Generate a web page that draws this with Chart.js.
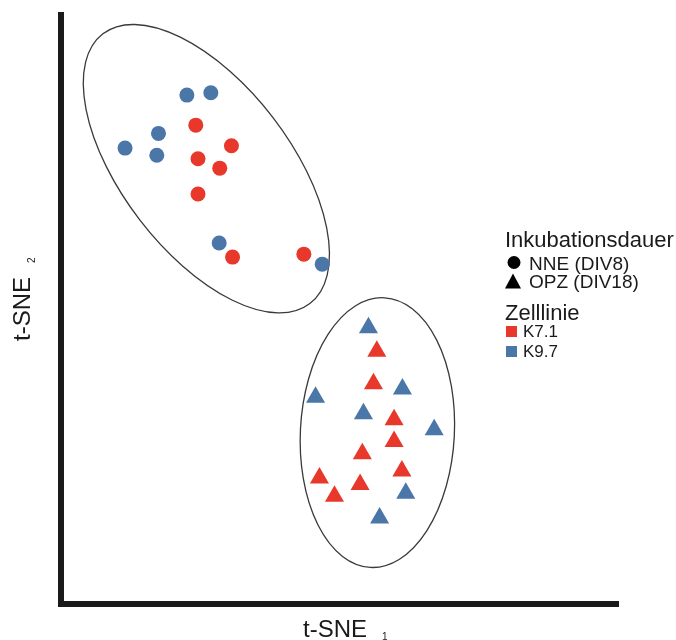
<!DOCTYPE html>
<html>
<head>
<meta charset="utf-8">
<script src="https://cdn.jsdelivr.net/npm/chart.js@4.4.1/dist/chart.umd.min.js"></script>
<style>
  html, body { margin: 0; padding: 0; background: #fff; }
  #wrap { width: 676px; height: 640px; position: relative; }
</style>
</head>
<body>
<div id="wrap"><canvas id="tsneChart"></canvas></div>
<script>
// t-SNE coordinates (arbitrary units, 0-100 on both axes)
const nneK71 = [[24.2, 81.3], [30.6, 77.8], [24.6, 75.6], [28.5, 74.0], [24.6, 69.6], [30.8, 58.9], [43.6, 59.4]];
const nneK97 = [[22.6, 86.4], [26.9, 86.8], [17.5, 79.9], [11.5, 77.4], [17.2, 76.2], [28.4, 61.3], [46.9, 57.7]];
const opzK71 = [[56.7, 42.9], [56.1, 37.4], [59.8, 31.3], [59.8, 27.6], [54.1, 25.5], [61.2, 22.6], [46.4, 21.4], [53.7, 20.3], [49.1, 18.3]];
const opzK97 = [[55.2, 46.9], [61.3, 36.5], [45.7, 35.1], [54.3, 32.3], [67.0, 29.6], [61.9, 18.8], [57.2, 14.6]];

const groupLabels = ['NNE (DIV8)', 'OPZ (DIV18)'];
const lineLabels = ['K7.1', 'K9.7'];

const RED = 'rgb(232, 56, 44)';
const BLUE = 'rgb(74, 118, 168)';

// cluster outlines: centre in data units, radii in px, angle in degrees
const clusterOutlines = [
  { cx: 26.1, cy: 73.9, rx: 170, ry: 84, angle: 52.5 },
  { cx: 56.8, cy: 29.1, rx: 77, ry: 135, angle: 3 }
];

function toPoints(pairs) {
  return pairs.map(p => ({ x: p[0], y: p[1] }));
}

// ===============================
// PLUGIN: ellipses, axis titles, legend
// ===============================
const extrasPlugin = {
  id: 'extras',
  beforeDatasetsDraw(chart) {
    const { ctx, scales: { x, y } } = chart;
    ctx.save();
    ctx.strokeStyle = '#3a3a3a';
    ctx.lineWidth = 1.3;
    clusterOutlines.forEach(e => {
      ctx.beginPath();
      ctx.ellipse(x.getPixelForValue(e.cx), y.getPixelForValue(e.cy), e.rx, e.ry, e.angle * Math.PI / 180, 0, Math.PI * 2);
      ctx.stroke();
    });
    ctx.restore();
  },
  afterDraw(chart) {
    const ctx = chart.ctx;
    const font = 'Liberation Sans, Arial, sans-serif';
    ctx.save();
    ctx.fillStyle = '#1a1a1a';
    ctx.textBaseline = 'alphabetic';
    ctx.textAlign = 'left';

    // x axis title
    ctx.font = '24px ' + font;
    ctx.fillText('t-SNE', 303, 637);
    ctx.font = '10px ' + font;
    ctx.fillText('1', 382, 640);

    // y axis title (rotated)
    ctx.save();
    ctx.translate(30, 341);
    ctx.rotate(-Math.PI / 2);
    ctx.font = '24px ' + font;
    ctx.fillText('t-SNE', 0, 0);
    ctx.font = '10px ' + font;
    ctx.fillText('2', 78, 5);
    ctx.restore();

    // legend: Inkubationsdauer
    ctx.font = '22px ' + font;
    ctx.fillText('Inkubationsdauer', 505, 247);
    ctx.font = '19px ' + font;
    ctx.fillText(groupLabels[0], 529, 270);
    ctx.fillText(groupLabels[1], 529, 288);
    ctx.fillStyle = '#000';
    ctx.beginPath();
    ctx.arc(514, 262.5, 6.5, 0, Math.PI * 2);
    ctx.fill();
    ctx.beginPath();
    ctx.moveTo(513, 273.5);
    ctx.lineTo(521, 288.5);
    ctx.lineTo(505, 288.5);
    ctx.closePath();
    ctx.fill();

    // legend: Zelllinie
    ctx.fillStyle = '#1a1a1a';
    ctx.font = '22px ' + font;
    ctx.fillText('Zelllinie', 505, 320);
    ctx.font = '17px ' + font;
    ctx.fillText(lineLabels[0], 523, 337);
    ctx.fillText(lineLabels[1], 523, 357);
    ctx.fillStyle = RED;
    ctx.fillRect(506, 326, 11, 11);
    ctx.fillStyle = BLUE;
    ctx.fillRect(506, 346, 11, 11);
    ctx.restore();
  }
};

// ===============================
// CHART
// ===============================
document.addEventListener('DOMContentLoaded', () => {
  const ctx = document.getElementById('tsneChart');
  const hiddenAxis = {
    type: 'linear',
    min: 0,
    max: 100,
    grid: { display: false, drawTicks: false },
    ticks: { display: false },
    border: { display: true, width: 6, color: '#1a1a1a' }
  };

  new Chart(ctx, {
    type: 'scatter',
    data: {
      datasets: [
        { label: groupLabels[0] + ' ' + lineLabels[0], data: toPoints(nneK71), pointStyle: 'circle', pointRadius: 7.5, backgroundColor: RED, borderWidth: 0 },
        { label: groupLabels[0] + ' ' + lineLabels[1], data: toPoints(nneK97), pointStyle: 'circle', pointRadius: 7.5, backgroundColor: BLUE, borderWidth: 0 },
        { label: groupLabels[1] + ' ' + lineLabels[0], data: toPoints(opzK71), pointStyle: 'triangle', pointRadius: 11, backgroundColor: RED, borderWidth: 0 },
        { label: groupLabels[1] + ' ' + lineLabels[1], data: toPoints(opzK97), pointStyle: 'triangle', pointRadius: 11, backgroundColor: BLUE, borderWidth: 0 }
      ]
    },
    options: {
      responsive: true,
      maintainAspectRatio: false,
      animation: false,
      layout: { padding: { left: 61, right: 58, top: 15, bottom: 36 } },
      plugins: {
        legend: { display: false },
        tooltip: { enabled: false }
      },
      scales: {
        x: { ...hiddenAxis },
        y: { ...hiddenAxis }
      }
    },
    plugins: [extrasPlugin]
  });
});
</script>
</body>
</html>
